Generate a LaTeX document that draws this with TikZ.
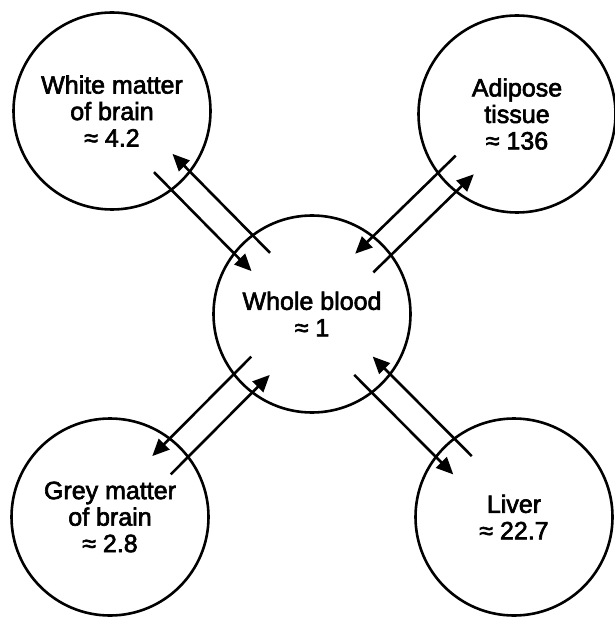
\documentclass[tikz,border=0pt]{standalone}
\usepackage{fontspec}
\setmainfont{Liberation Sans}
\newfontfamily\lblfont[FakeBold=2.5]{Liberation Sans}
\usetikzlibrary{calc,arrows.meta}
\tikzset{
  blob/.style={draw, circle, line width=2.6pt, minimum size=197pt, inner sep=0pt,
    align=center, font=\lblfont\fontsize{25}{26.5}\selectfont},
  flow/.style={line width=2.6pt, -{Triangle[length=17pt,width=15pt]}}
}
\begin{document}
\begin{tikzpicture}[x=1pt,y=-1pt]
\useasboundingbox (0,0) rectangle (614,617);
\node[blob] (c)  at (312,314) {Whole blood\\≈ 1};
\node[blob] (tl) at (112,111) {White matter\\of brain\\≈ 4.2};
\node[blob] (tr) at (517,114) {Adipose\\tissue\\≈ 136};
\node[blob] (bl) at (110,517) {Grey matter\\of brain\\≈ 2.8};
\node[blob] (br) at (514,517) {Liver\\≈ 22.7};
\foreach \X in {tl,tr,bl,br}{
  \draw[flow] ($(c.center)!73pt!(\X.center)!13pt!-90:(\X.center)$) --
              ($(\X.center)!73pt!(c.center)!13pt!90:(c.center)$);
  \draw[flow] ($(\X.center)!73pt!(c.center)!13pt!-90:(c.center)$) --
              ($(c.center)!73pt!(\X.center)!13pt!90:(\X.center)$);
}
\end{tikzpicture}
\end{document}
